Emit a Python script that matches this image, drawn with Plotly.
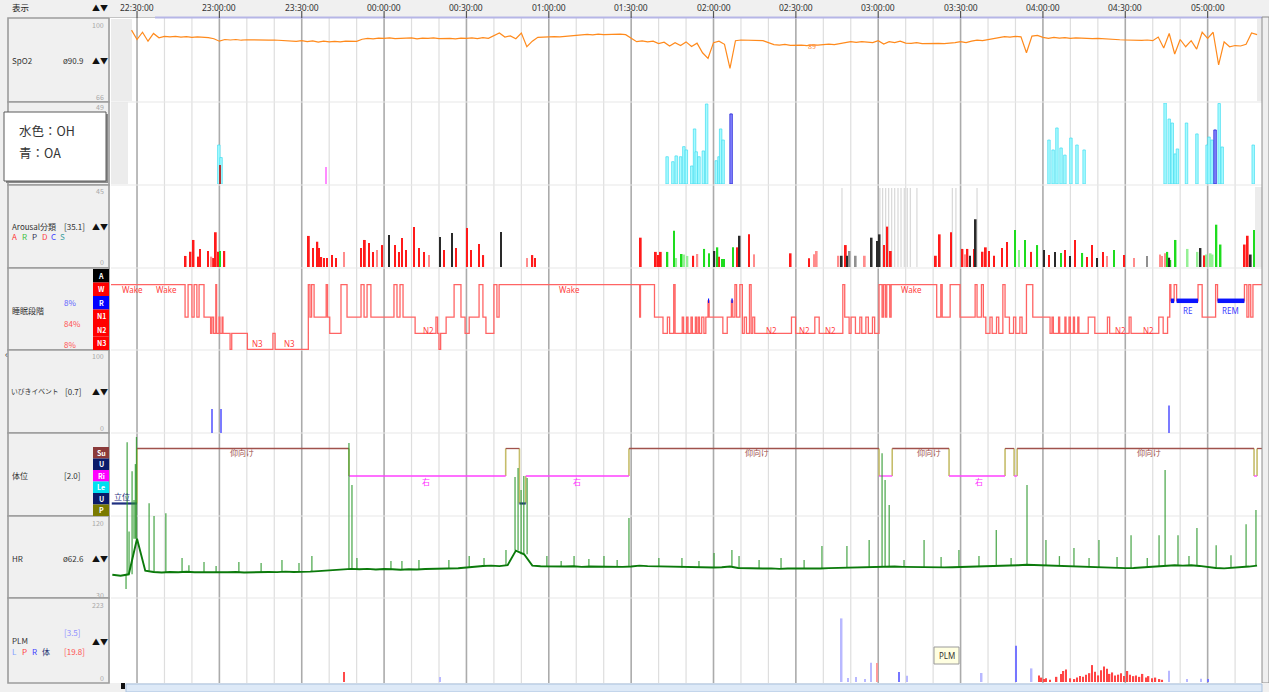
import plotly.graph_objects as go

# ======================= DATA (minutes after 22:00) =======================
TICK_MIN = [30, 60, 90, 120, 150, 180, 210, 240, 270, 300, 330, 360, 390, 420]
TICK_LABELS = ["22:30:00", "23:00:00", "23:30:00", "00:00:00", "00:30:00", "01:00:00", "01:30:00",
               "02:00:00", "02:30:00", "03:00:00", "03:30:00", "04:00:00", "04:30:00", "05:00:00"]
MINOR_MIN = [40, 50, 70, 80, 100, 110, 130, 140, 160, 170, 190, 200, 220, 230, 250, 260, 280, 290,
             310, 320, 340, 350, 370, 380, 400, 410, 430]

# SpO2 (%), sampled every 2 minutes from 22:28
SPO2_START, SPO2_STEP = 28, 2
SPO2 = [95.4, 91.5, 94.5, 90.8, 94.0, 92.2, 92.8,
        92.6, 92.8, 92.5, 92.7, 92.4, 92.6, 92.5, 92.3, 91.8, 90.8,
        91.5, 91.3, 91.5, 91.2, 91.4, 91.3, 91.2, 91.4, 91.2, 91.3, 91.1, 90.9, 91.0, 90.7, 91.0,
        90.6, 90.9, 90.4, 90.8, 90.5, 90.7, 90.5, 90.8, 90.6, 90.7, 91.6, 92.0, 91.8, 92.1, 92.0,
        92.2, 91.9, 92.1, 92.0, 92.2, 91.8, 92.1, 92.0, 92.2, 91.9, 92.1, 92.0, 91.8, 92.1, 92.0,
        92.2, 91.9, 92.3, 92.0, 93.0, 94.2, 92.5, 93.0, 91.8, 94.2, 88.5, 90.8, 92.4, 92.6, 92.7,
        92.7, 92.6, 92.8, 92.7, 92.9, 93.2, 93.6, 93.4, 93.7, 93.5, 93.6, 93.4, 93.7, 93.5, 92.2,
        90.6, 90.9, 90.5, 90.8, 89.8, 90.4, 88.8, 90.2, 89.0, 90.5, 88.6, 90.0, 86.0, 83.7, 90.2,
        90.8, 89.5, 79.5, 91.0, 91.3, 91.2, 91.0, 90.8, 91.0, 90.2, 89.4, 89.2, 89.5, 89.1, 89.3,
        89.2, 89.0, 89.3, 89.2, 89.4, 89.6, 89.4, 89.8, 90.2, 90.6, 90.3, 90.6, 90.4, 90.2, 91.0,
        89.6, 90.6, 90.2, 90.8, 90.0, 89.9, 90.2, 89.8, 89.9, 89.8, 89.9, 89.8, 89.9, 90.2, 90.6,
        90.2, 90.8, 91.2, 91.0, 91.5, 91.8, 92.2, 92.7, 92.5, 92.8, 92.6, 86.0, 92.9, 93.2, 92.4,
        92.0, 92.4, 92.1, 92.3, 92.0, 92.2, 92.0, 92.1, 91.9, 92.0, 91.8, 91.9, 91.6, 91.4, 91.3,
        91.2, 91.4, 91.1, 91.3, 91.0, 92.5, 88.0, 94.0, 85.5, 91.5, 88.5, 91.0, 87.5, 94.5, 92.0,
        94.5, 81.0, 90.5, 88.5, 89.0, 88.8, 89.5, 94.2, 93.5]

# Respiratory events (height) : OH = light blue, OA = blue
OH_T = [59.8, 60.6, 223.1, 225.2, 226.4, 228.0, 229.2, 230.1, 232.1, 233.1, 233.7, 234.7, 236.3, 237.5,
        241.0, 242.0, 242.6, 243.5, 362.2, 363.7, 365.1, 366.6, 368.0, 370.2, 372.4, 375.0,
        404.5, 406.0, 407.1, 408.2, 409.0, 412.3, 416.1, 419.8, 420.5, 421.6, 424.2, 425.3, 436.6]
OH_V = [23.6, 16.0, 16.5, 13.5, 17.0, 16.5, 22.6, 20.6, 10.9, 33.3, 19.5, 16.5, 20.0, 48.4,
        14.1, 16.5, 33.3, 26.6, 26.6, 20.6, 33.9, 21.8, 17.5, 27.8, 23.6, 20.6,
        49.0, 39.3, 36.9, 18.2, 21.2, 36.9, 30.3, 23.6, 28.4, 26.6, 48.7, 22.4, 23.6]
OA_T = [246.4, 422.7]
OA_V = [42.4, 32.7]
EV_OTHER_T = [60.2, 98.8]
EV_OTHER_V = [11.5, 10.3]
EV_OTHER_KIND = ["dark", "pink"]

# Arousals
AROUSAL_T = [47.7, 49.5, 50.6, 52.3, 52.9, 55.9, 57.1, 57.8, 58.7, 59.6, 60.2, 61.8,
             92.6, 94.1, 95.7, 96.3, 97.1, 98.1, 99.2, 101.0, 102.5, 105.4,
             111.6, 113.0, 114.5, 116.0, 117.4, 119.3, 121.8, 124.0, 125.4, 126.5, 128.0, 130.9, 132.7, 134.5,
             136.4, 140.4, 141.8, 144.7, 146.2, 150.2, 151.7, 154.6, 156.1, 162.6, 172.1, 174.0, 175.0,
             213.5, 219.0, 219.8, 220.8, 223.2, 225.6, 226.4, 228.4, 229.3, 230.5, 232.6, 234.1, 236.6, 238.4,
             240.3, 241.4, 242.0, 243.1, 243.8, 247.1, 248.7, 249.5, 252.9, 254.8,
             268.1, 274.8, 276.6, 277.6, 285.5, 286.7, 288.2, 288.8, 289.6, 291.8, 295.1, 297.6, 299.7, 300.5,
             302.1, 303.3, 304.6,
             321.0, 322.4, 326.5, 330.7, 331.7, 332.5, 333.4, 334.9, 335.5, 338.0, 339.2, 340.4, 342.2,
             345.1, 346.9, 349.8, 351.3, 353.5, 355.7, 357.9, 360.4, 362.2, 364.4, 366.6, 368.0, 369.9, 371.7,
             374.3, 376.1, 377.9, 379.7, 381.9, 383.3, 385.9, 389.5, 393.2, 397.9,
             402.7, 403.4, 404.5, 405.3, 406.0, 406.4, 408.3, 412.7, 416.3, 417.4, 418.9, 419.6, 421.1, 421.8,
             423.2, 424.7, 433.5, 434.6, 435.7, 436.9]
AROUSAL_V = [6.3, 8.7, 15.4, 5.9, 10.3, 9.1, 5.9, 5.1, 19.8, 8.7, 9.1, 9.1,
             17.7, 10.8, 14.4, 10.8, 5.7, 5.1, 5.1, 6.8, 5.1, 8.6,
             10.8, 15.4, 13.7, 8.6, 9.7, 12.5, 18.2, 12.5, 8.6, 16.5, 9.7, 22.8, 10.8, 8.6,
             6.8, 17.1, 9.7, 19.4, 10.8, 22.2, 9.7, 13.1, 6.8, 20.0, 5.1, 6.8, 5.1,
             16.7, 8.6, 6.8, 8.6, 8.6, 20.7, 5.1, 7.4, 7.1, 6.3, 6.4, 7.4, 10.3, 7.8,
             9.1, 11.2, 5.9, 4.6, 4.6, 11.2, 11.2, 17.8, 18.6, 7.2,
             7.8, 5.0, 7.2, 9.1, 6.4, 6.4, 12.5, 6.4, 9.1, 6.4, 6.4, 16.7, 14.8, 18.6,
             12.5, 23.0, 9.1,
             6.4, 18.6, 19.8, 10.3, 7.2, 10.3, 6.4, 10.3, 27.2, 8.7, 11.2, 9.1, 6.4,
             10.8, 14.3, 21.1, 9.7, 15.4, 8.6, 12.5, 9.7, 6.8, 8.6, 8.0, 9.7, 6.3, 15.4,
             8.0, 5.7, 12.5, 5.1, 8.6, 6.3, 9.7, 6.8, 5.1, 6.3,
             7.1, 6.3, 7.8, 8.6, 5.3, 4.0, 15.4, 10.3, 8.6, 10.8, 6.6, 7.1, 7.8, 7.1,
             24.1, 12.8, 12.8, 17.8, 7.1, 21.1]
AROUSAL_KIND = ["A", "A", "A", "A", "A", "A", "D", "A", "A", "A", "R", "A",
                "A", "A", "A", "A", "A", "A", "A", "A", "A", "D",
                "A", "A", "A", "A", "D", "A", "P", "A", "A", "A", "A", "A", "A", "A",
                "D", "P", "A", "P", "A", "A", "A", "A", "A", "P", "D", "A", "A",
                "A", "A", "A", "A", "R", "R", "r", "R", "r", "r", "A", "D", "R", "R",
                "P", "R", "A", "R", "R", "R", "A", "P", "A", "D",
                "A", "A", "D", "D", "D", "P", "A", "P", "g", "g", "D", "P", "P", "P",
                "A", "A", "A",
                "A", "A", "A", "A", "D", "A", "P", "A", "P", "A", "A", "A", "A",
                "A", "A", "R", "r", "R", "A", "R", "P", "A", "P", "R", "A", "P", "A",
                "R", "A", "A", "P", "A", "D", "R", "A", "D", "g",
                "D", "D", "D", "R", "P", "R", "R", "r", "r", "P", "A", "r", "r", "r",
                "R", "R", "A", "A", "P", "R"]
AROUSAL_GRAY_T = [286.8, 300.6, 301.6, 302.7, 303.8, 304.9, 306.0, 307.2, 308.3, 309.5, 310.6, 311.7,
                  314.1, 327.0, 328.3, 336.0]

# Hypnogram (start of each epoch run)
STAGE_T = [20.5, 47.5, 48.6, 50.0, 50.8, 51.8, 52.6, 54.4, 56.8, 57.3, 57.9, 58.7, 59.0, 59.9, 60.2, 61.0,
           61.3, 63.9, 64.5, 70.2, 79.5, 80.3, 92.4, 93.0, 93.6, 94.5, 98.9, 99.4, 100.2, 104.3, 106.5,
           111.6, 112.7, 113.8, 115.2, 123.6, 124.7, 125.8, 126.9, 131.3, 138.9, 139.5, 140.0, 140.6,
           142.6, 145.5, 148.0, 149.5, 151.0, 154.6, 156.0, 157.1, 160.0, 161.1, 161.9,
           213.1, 213.4, 218.5, 221.6, 223.2, 224.0, 225.5, 226.0, 228.6, 229.1, 230.2, 230.7, 231.8,
           232.3, 233.4, 233.8, 234.4, 234.9, 235.7, 236.5, 237.2, 238.0, 238.4, 243.4, 245.0, 246.5,
           247.0, 247.8, 248.4, 249.6, 250.5, 251.2, 252.0, 253.1, 253.7, 254.3, 255.0, 268.4, 269.9,
           276.9, 278.5, 287.1, 287.8, 289.4, 290.1, 291.7, 293.3, 294.0, 295.5, 296.4, 297.9, 298.7,
           300.3, 301.4, 301.9, 302.6, 303.1, 304.2, 304.7, 321.3, 322.8, 323.3, 326.2, 329.8, 335.3,
           336.0, 337.6, 338.3, 339.2, 340.7, 341.5, 343.1, 343.9, 345.4, 346.2, 347.8, 349.3, 350.1,
           351.6, 352.4, 354.0, 356.3, 362.6, 363.3, 363.8, 365.7, 366.1, 368.0, 368.4, 369.5, 370.0,
           371.1, 371.5, 372.7, 373.1, 376.5, 378.9, 383.5, 384.3, 391.4, 392.1, 402.2, 403.8, 405.4,
           406.2, 406.6, 407.8, 408.7, 416.5, 418.0, 422.9, 423.6, 433.4, 434.3, 435.0, 435.7, 436.5]
STAGE_CODE = ["W", "N1", "W", "N1", "W", "N1", "W", "N1", "N2", "N1", "N2", "W", "N2", "N1", "N2", "N1",
              "N2", "N3", "N2", "N3", "N2", "N3", "W", "N1", "W", "N1", "W", "N1", "N2", "W", "N1",
              "W", "N1", "W", "N1", "W", "N1", "W", "N1", "N2", "N1", "N2", "N3", "N2",
              "N1", "W", "N1", "N2", "N1", "W", "N1", "N2", "W", "N1", "W",
              "N1", "W", "N1", "N2", "N1", "N2", "W", "N2", "N1", "N2", "N1", "N2", "N1",
              "N2", "N1", "N2", "N1", "N2", "N1", "N2", "N1", "R", "N1", "N2", "N1", "R",
              "N1", "W", "N1", "W", "N2", "N1", "N2", "W", "N2", "N1", "N2", "N1", "N2",
              "N1", "N2", "W", "N1", "N2", "N1", "N2", "N1", "N2", "N1", "N2", "N1", "N2",
              "W", "N1", "W", "N1", "W", "N1", "W", "N1", "W", "N1", "W", "N1", "W",
              "N1", "W", "N1", "N2", "N1", "N2", "N1", "N2", "W", "N1", "N2", "N1", "N2",
              "N1", "N2", "W", "N1", "N2", "N1", "N2", "N1", "N2", "N1", "N2", "N1", "N2",
              "N1", "N2", "N1", "N2", "N1", "N2", "N1", "N2", "N1", "N2", "N1", "N2", "N1",
              "W", "R", "W", "R", "W", "N1", "W", "R", "W", "N1", "W", "N1", "W"]
STAGE_PCT = ["8%", "84%", "8%"]
STAGE_LABEL_TEXT = ["Wake", "Wake", "N3", "N3", "N2", "Wake", "N2", "N2", "N2", "Wake", "N2", "N2", "RE", "REM"]
STAGE_LABEL_T = [28.2, 40.9, 74.0, 85.7, 136.0, 187.7, 261.3, 273.0, 282.5, 312.3, 388.1, 398.3, 412.5, 428.5]

# Snoring events
SNORE_T = [57.3, 60.6, 406.0]
SNORE_V = [29, 29, 33]

# Body position
POS_T = [20.8, 30.0, 107.2, 164.3, 169.3, 171.6, 209.2, 300.3, 305.1, 325.8, 346.2, 349.5, 350.6, 436.9, 438.0]
POS_CODE = ["立位", "仰向け", "右", "仰向け", "立位", "右", "仰向け", "右", "仰向け", "右", "仰向け", "右",
            "仰向け", "右", "仰向け"]
POS_LABEL_TEXT = ["立位", "仰向け", "仰向け", "仰向け", "仰向け", "右", "右", "右"]
POS_LABEL_T = [24.5, 68.2, 255.9, 318.5, 398.7, 135.3, 190.3, 336.7]

# Heart rate (bpm), every 3 minutes from 22:21, plus short spikes
HR_START, HR_STEP = 21, 3
HR = [55.5, 54.5, 56.0, 95.0, 60.0, 58.5, 58.0, 58.6, 58.2, 58.8, 58.3, 58.5, 58.0, 58.4,
      58.2, 58.6, 58.0, 58.4, 58.1, 58.6, 58.4, 59.0, 58.6, 59.2, 59.0, 59.5, 60.2, 60.5, 60.8,
      62.0, 61.5, 62.0, 61.2, 61.8, 61.5, 61.0, 61.5, 61.2, 61.8, 62.0, 62.3, 62.0, 62.6, 63.5,
      64.5, 65.2, 65.5, 65.0, 66.0,
      82.0, 78.0,
      65.5, 64.8, 64.5, 65.0, 64.6, 64.8, 64.2, 64.6, 64.4, 64.8, 64.5, 64.2, 64.6,
      65.5, 65.0, 64.8, 64.5, 64.0, 63.5, 63.8, 63.2, 63.0, 63.5, 63.8, 64.5, 63.0, 62.6, 62.8,
      62.3, 62.5, 62.0, 62.4, 62.2, 62.6, 62.0, 62.4, 62.8, 63.0, 63.2, 63.5, 63.8, 64.0, 64.5,
      65.0, 64.5, 64.2, 64.0, 63.8, 63.5, 64.0, 63.6, 63.8, 64.0, 64.5, 64.2, 64.8, 65.0, 65.5,
      65.8, 66.0, 66.5, 66.2, 66.0,
      65.5, 65.0, 64.6, 64.2, 64.0, 63.8, 63.6, 63.4, 63.0, 62.8, 63.0, 63.5, 64.0, 65.0,
      65.5, 66.0, 65.5, 66.0, 65.2, 64.0, 63.0, 62.5, 63.0, 63.8, 64.5, 65.5]
HR_SPIKE_T = [26.0, 26.4, 27.1, 28.2, 28.9, 29.4, 29.8, 34.4, 36.2, 40.5, 46.4,
              48.9, 54.4, 58.8, 67.1, 75.2, 82.8, 89.0, 93.7, 107.2, 108.3,
              110.1, 122.5, 126.5, 132.7, 143.6, 151.0, 156.4, 164.4, 167.7, 168.8,
              169.9, 170.9, 172.1, 179.3, 184.5, 189.2, 194.6, 200.1, 204.9, 209.2,
              220.1, 228.5, 234.7, 240.2, 246.7, 249.3, 256.6, 264.6, 273.0, 279.5,
              288.6, 296.7, 301.4, 302.5, 304.0, 309.4, 316.7, 322.9, 329.4, 336.7,
              343.0, 348.4, 354.2, 361.1, 366.0, 371.3, 376.8, 380.4, 387.0, 392.1,
              398.0, 402.3, 404.5, 409.2, 413.2, 416.1, 423.1, 428.5, 434.0, 437.6]
HR_SPIKE_V = [40, 201, 103, 169, 137.6, 177, 206.7, 134, 120, 123, 74,
              66, 69.5, 65, 69.5, 68.4, 71.7, 68.4, 76, 200, 154,
              74, 70.6, 70.6, 71.7, 71.7, 76, 74, 82.7, 162.8, 172.7,
              148.5, 164, 161.7, 76, 70.6, 76, 72.8, 76, 71.7, 117.8,
              74, 74, 70.6, 79.4, 82.7, 76, 71.7, 74, 71.7, 87,
              87, 93.7, 189, 159.5, 132, 71.7, 93.7, 75, 82.7, 76,
              104.6, 74, 154, 93.7, 76, 85, 74, 93.7, 75, 99,
              74, 99, 170.5, 99, 76, 106.8, 88, 77, 111, 126.6]

# PLM
PLM_T = [105.4, 140.4, 286.7, 289.0, 292.0, 295.2, 297.3, 299.5, 307.6, 310.5, 337.7, 350.1, 355.9,
         406.0, 412.5, 417.5, 420.2]
PLM_V = [27, 13.6, 173, 11, 13.6, 8, 52.5, 51.7, 27, 17, 24.5, 98.7, 37, 30.7, 8, 9, 8]
PLM_KIND = ["P", "L", "L", "L", "L", "L", "L", "Q", "B", "L", "L", "B", "L", "L", "L", "L", "B"]
PLM_RED_T = [358.6, 359.5, 360.3, 361.2, 362.5, 365.0, 366.5, 367.5, 368.5, 370.0,
             371.5, 372.5, 373.5, 374.5, 375.8, 377.0, 378.0, 379.0, 380.2, 381.2,
             382.3, 383.3, 384.3, 385.3, 386.3, 387.5, 388.5, 389.5, 390.8, 391.8,
             393.0, 394.0, 395.2, 396.3, 397.5, 398.5, 399.8, 401.0, 402.5, 403.5]
PLM_RED_V = [18, 12, 8, 10, 6, 14, 22, 30, 34, 10,
             8, 12, 16, 14, 20, 24, 46, 28, 18, 32,
             42, 36, 22, 26, 18, 20, 24, 16, 30, 20,
             16, 18, 14, 22, 12, 16, 10, 12, 8, 6]

# ======================= LAYOUT GEOMETRY =======================
FIG_W, FIG_H = 1269, 692
T_START, T_END = 20.52, 439.8
PLOT_X0, PLOT_X1 = 111, 1262
FONT = "Noto Sans CJK JP"

PANELS = {1: (19, 101, [66, 100]), 2: (103, 184, [0, 49]), 3: (188, 267, [0, 45]),
          4: (268, 350, [0.97, 6.02]), 5: (350, 433, [0, 100]), 6: (433, 516, [0.545, 3.564]),
          7: (433, 598, [30, 211.1]), 8: (600, 682, [0, 223])}
STAGE_LEVEL = {"W": 5, "R": 4, "N1": 3, "N2": 2, "N3": 1}
POS_LEVEL = {"仰向け": 3, "右": 2, "立位": 1}
POS_COLOR = {"仰向け": "#a0524c", "右": "#ff40ff", "立位": "#1f2f80"}


def px(x):
    return x / FIG_W


def py(y):
    return 1 - y / FIG_H


def ax(i):
    return ("x" if i == 1 else f"x{i}"), ("y" if i == 1 else f"y{i}")


fig = go.Figure()
layout = {}
for i, (top, bot, rng) in PANELS.items():
    xk = "xaxis" if i == 1 else f"xaxis{i}"
    yk = "yaxis" if i == 1 else f"yaxis{i}"
    layout[xk] = dict(domain=[px(PLOT_X0), px(PLOT_X1)], range=[T_START, T_END], visible=False,
                      anchor=ax(i)[1], fixedrange=True)
    layout[yk] = dict(domain=[py(bot), py(top)], range=rng, visible=False, anchor=ax(i)[0], fixedrange=True)

# ---------- SpO2 ----------
spo2_t = [SPO2_START + SPO2_STEP * k for k in range(len(SPO2))]
x1, y1 = ax(1)
fig.add_trace(go.Scatter(x=spo2_t, y=SPO2, mode="lines", line=dict(color="#ff8a1c", width=1.2),
                         xaxis=x1, yaxis=y1))

# ---------- events ----------
x2, y2 = ax(2)
fig.add_trace(go.Bar(x=OH_T, y=OH_V, width=0.9, marker=dict(color="#a8fbff", line=dict(color="#40dcf0", width=0.7)),
                     xaxis=x2, yaxis=y2))
fig.add_trace(go.Bar(x=OA_T, y=OA_V, width=0.9, marker=dict(color="#8c8cff", line=dict(color="#2020d8", width=0.8)),
                     xaxis=x2, yaxis=y2))
ev_col = {"dark": "#b03434", "pink": "#ff8cff"}
fig.add_trace(go.Bar(x=EV_OTHER_T, y=EV_OTHER_V, width=0.6, marker=dict(color=[ev_col[k] for k in EV_OTHER_KIND], line=dict(width=0)),
                     xaxis=x2, yaxis=y2))

# ---------- arousal ----------
x3, y3 = ax(3)
fig.add_trace(go.Bar(x=AROUSAL_GRAY_T, y=[45] * len(AROUSAL_GRAY_T), width=0.45,
                     marker=dict(color="rgba(170,170,170,0.45)", line=dict(width=0)), xaxis=x3, yaxis=y3))
ar_col = {"A": "#ff1a1a", "D": "#ff8c8c", "R": "#1edc1e", "r": "#95f095", "P": "#2a2a2a", "g": "#909090"}
for kind, col in ar_col.items():
    xs = [t for t, k in zip(AROUSAL_T, AROUSAL_KIND) if k == kind]
    ys = [v for v, k in zip(AROUSAL_V, AROUSAL_KIND) if k == kind]
    fig.add_trace(go.Bar(x=xs, y=ys, width=0.65, marker=dict(color=col, line=dict(width=0)), xaxis=x3, yaxis=y3))

# ---------- hypnogram ----------
x4, y4 = ax(4)
lv = [STAGE_LEVEL[c] for c in STAGE_CODE]
fig.add_trace(go.Scatter(x=STAGE_T + [T_END], y=lv + [lv[-1]], mode="lines", line_shape="hv",
                         line=dict(color="#ff6464", width=1.3), xaxis=x4, yaxis=y4))
rx, ry = [], []
for k, c in enumerate(STAGE_CODE):
    if c == "R":
        t1 = STAGE_T[k + 1] if k + 1 < len(STAGE_T) else T_END
        rx += [STAGE_T[k], t1, None]
        ry += [STAGE_LEVEL["R"]] * 2 + [None]
fig.add_trace(go.Scatter(x=rx, y=ry, mode="lines", line=dict(color="#0a14ff", width=4.5), xaxis=x4, yaxis=y4))

# ---------- snoring ----------
x5, y5 = ax(5)
fig.add_trace(go.Bar(x=SNORE_T, y=SNORE_V, width=0.5, marker=dict(color="#7b7bff", line=dict(width=0)),
                     xaxis=x5, yaxis=y5))

# ---------- position ----------
x6, y6 = ax(6)
seg = {c: ([], []) for c in POS_LEVEL}
cx, cy = [], []
for k, c in enumerate(POS_CODE):
    t1 = POS_T[k + 1] if k + 1 < len(POS_T) else T_END
    seg[c][0].extend([POS_T[k], t1, None])
    seg[c][1].extend([POS_LEVEL[c], POS_LEVEL[c], None])
    if k > 0:
        cx += [POS_T[k], POS_T[k], None]
        cy += [POS_LEVEL[POS_CODE[k - 1]], POS_LEVEL[c], None]
fig.add_trace(go.Scatter(x=cx, y=cy, mode="lines", line=dict(color="#c6bd6a", width=1.6), xaxis=x6, yaxis=y6))
for c, (xs, ys) in seg.items():
    fig.add_trace(go.Scatter(x=xs, y=ys, mode="lines", line=dict(color=POS_COLOR[c], width=2.2 if c == "立位" else 1.3),
                             xaxis=x6, yaxis=y6))

# ---------- heart rate ----------
x7, y7 = ax(7)
hr_t = [HR_START + HR_STEP * k for k in range(len(HR))]
sx, sy = [], []
for t, v in zip(HR_SPIKE_T, HR_SPIKE_V):
    k = min(len(HR) - 1, max(0, round((t - HR_START) / HR_STEP)))
    sx += [t, t, None]
    sy += [HR[k], v, None]
fig.add_trace(go.Scatter(x=sx, y=sy, mode="lines", line=dict(color="rgba(40,150,40,0.8)", width=1.3),
                         xaxis=x7, yaxis=y7))
fig.add_trace(go.Scatter(x=hr_t, y=HR, mode="lines", line=dict(color="#0b7a0b", width=1.9), xaxis=x7, yaxis=y7))

# ---------- PLM ----------
x8, y8 = ax(8)
plm_col = {"P": "#ff4a4a", "L": "#b8b8ff", "B": "#7676ff", "Q": "#ff9a9a"}
fig.add_trace(go.Bar(x=PLM_T, y=PLM_V, width=0.55, marker=dict(color=[plm_col[k] for k in PLM_KIND], line=dict(width=0)),
                     xaxis=x8, yaxis=y8))
fig.add_trace(go.Bar(x=PLM_RED_T, y=PLM_RED_V, width=0.5, marker=dict(color="#ff4444", line=dict(width=0)),
                     xaxis=x8, yaxis=y8))

# ======================= DECORATION =======================
shapes = []


def rect(x0, y0, x1_, y1_, fill, line="rgba(0,0,0,0)", lw=0, layer="above"):
    shapes.append(dict(type="rect", xref="paper", yref="paper", x0=px(x0), x1=px(x1_), y0=py(y1_), y1=py(y0),
                       fillcolor=fill, line=dict(color=line, width=lw), layer=layer))


def hline(x0, x1_, y, color, lw=1, layer="below"):
    shapes.append(dict(type="line", xref="paper", yref="paper", x0=px(x0), x1=px(x1_), y0=py(y), y1=py(y),
                       line=dict(color=color, width=lw), layer=layer))


# hatched "no data" zones
rect(111, 19, 132, 101, "#ececec", layer="below")
rect(111, 102, 128, 184, "#ececec", layer="below")
rect(1257, 19, 1262, 101, "#ececec", layer="below")
rect(1255, 187, 1262, 267, "#ececec", layer="below")

# vertical time grid
for t in MINOR_MIN:
    shapes.append(dict(type="line", xref="x", yref="paper", x0=t, x1=t, y0=py(683), y1=py(17),
                       line=dict(color="#dedede", width=1.2), layer="below"))
for t in TICK_MIN:
    shapes.append(dict(type="line", xref="x", yref="paper", x0=t, x1=t, y0=py(683), y1=py(17),
                       line=dict(color="#ababab", width=1.6), layer="below"))
# horizontal panel separators in plot area
for y in [102, 185, 268, 350, 433, 516, 598]:
    hline(PLOT_X0, PLOT_X1, y, "#e8e8e8", 1.2)

# header
rect(0, 0, FIG_W, 17, "#f0f0f0")
hline(0, FIG_W, 17.5, "#c4c4c4", 1.2, layer="above")
hline(155, PLOT_X1, 17.5, "#b6b6e6", 2.2, layer="above")
for t in TICK_MIN:
    shapes.append(dict(type="line", xref="x", yref="paper", x0=t, x1=t, y0=py(18), y1=py(11),
                       line=dict(color="#555555", width=1.2), layer="above"))

# right border & bottom scroll bar
rect(1262, 17, FIG_W, 683, "#efefef", "#8c8c8c", 1)
rect(0, 683, FIG_W, FIG_H, "#f0f0f0")
rect(126, 684, 1262, 692, "#dde9f7", "#a9c1de", 1)
rect(121, 683, 125, 689, "#111111")

# left label column
rect(0, 17, 110, 683, "#f0f0f0")
BOXES = [(18, 102), (102, 185), (185, 268), (268, 350), (350, 433), (433, 516), (516, 598), (598, 683)]
for top, bot in BOXES:
    rect(8, top, 109, bot, "#f0f0f0", "#9c9c9c", 1.6)

STAGE_BOX = ["A", "W", "R", "N1", "N2", "N3"]
STAGE_BOX_COL = ["#000000", "#ff0000", "#0000ff", "#ff0000", "#ff0000", "#ff0000"]
POS_BOX = ["Su", "U", "Ri", "Le", "U", "P"]
POS_BOX_COL = ["#8b3a3a", "#0a1a6a", "#ff00ff", "#00e0f0", "#0a1a6a", "#7a7a00"]

annotations = []


def txt(x, y, text, size=8, color="#333333", anchor="left", bold=False, family=FONT):
    annotations.append(dict(xref="paper", yref="paper", x=px(x), y=py(y), text=f"<b>{text}</b>" if bold else text,
                            showarrow=False, xanchor=anchor, yanchor="middle",
                            font=dict(size=size, color=color, family=family)))


h = (350 - 269) / 6
for k, (lab, col) in enumerate(zip(STAGE_BOX, STAGE_BOX_COL)):
    rect(93, 269 + k * h, 109, 269 + (k + 1) * h, col)
    txt(101, 269 + (k + 0.5) * h, lab, 7, "#ffffff", "center", True)
h2 = (516 - 447) / 6
for k, (lab, col) in enumerate(zip(POS_BOX, POS_BOX_COL)):
    rect(93, 447 + k * h2, 109, 447 + (k + 1) * h2, col)
    txt(101, 447 + (k + 0.5) * h2, lab, 7, "#ffffff", "center", True)

# legend overlay box
rect(6, 114, 108, 183, "#8a8a8a")
rect(4, 112, 106, 181, "#ffffff", "#5a5a5a", 1)

# header texts
txt(10, 7, "表示", 8.5, "#222222")
txt(100, 8, "▲▼", 8, "#111111", "center")
for t, lab in zip(TICK_MIN, TICK_LABELS):
    annotations.append(dict(xref="x", yref="paper", x=t, y=py(7), text=lab, showarrow=False, xanchor="center",
                            yanchor="middle", font=dict(size=8.5, color="#333333", family="Noto Sans")))

GRAY = "#a8a8a8"
# SpO2 labels
txt(106, 25, "100", 7, GRAY, "right")
txt(106, 97, "66", 7, GRAY, "right")
txt(10, 60, "SpO2", 8)
txt(61, 60, "ø90.9", 8)
txt(100, 60, "▲▼", 8, "#111111", "center")
# events
txt(106, 107, "49", 7, GRAY, "right")
txt(17, 130, "水色：OH", 12.5, "#333333")
txt(17, 153, "青：OA", 12.5, "#333333")
# arousal
txt(106, 191, "45", 7, GRAY, "right")
txt(106, 262, "0", 7, GRAY, "right")
txt(10, 227, "Arousal分類", 8)
txt(62, 227, "[35.1]", 8)
txt(100, 227, "▲▼", 8, "#111111", "center")
for xx, ch, col in [(10, "A", "#ff3030"), (20, "R", "#40c040"), (30, "P", "#303050"), (40, "D", "#ff4040"),
                    (49, "C", "#4040ff"), (58, "S", "#40a0a0")]:
    txt(xx, 237, ch, 8, col)
# stage
txt(10, 310, "睡眠段階", 8)
txt(62, 302, STAGE_PCT[0], 8, "#6060ff")
txt(62, 323, STAGE_PCT[1], 8, "#ff5050")
txt(62, 344, STAGE_PCT[2], 8, "#ff5050")
# snore
txt(106, 356, "100", 7, GRAY, "right")
txt(106, 428, "0", 7, GRAY, "right")
txt(9, 391, "いびきイベント", 6.8)
txt(63, 391, "[0.7]", 8)
txt(100, 391, "▲▼", 8, "#111111", "center")
# position
txt(10, 475, "体位", 8)
txt(62, 475, "[2.0]", 8)
# HR
txt(106, 523, "120", 7, GRAY, "right")
txt(106, 595, "30", 7, GRAY, "right")
txt(10, 558, "HR", 8)
txt(61, 558, "ø62.6", 8)
txt(100, 558, "▲▼", 8, "#111111", "center")
# PLM
txt(106, 605, "223", 7, GRAY, "right")
txt(106, 678, "0", 7, GRAY, "right")
txt(62, 632, "[3.5]", 8, "#9090ff")
txt(10, 640, "PLM", 8)
txt(100, 641, "▲▼", 8, "#111111", "center")
for xx, ch, col in [(10, "L", "#80a0ff"), (20, "P", "#ff4040"), (30, "R", "#4040ff"), (40, "体", "#203070")]:
    txt(xx, 651, ch, 8, col)
txt(62, 651, "[19.8]", 8, "#ff5050")
txt(3, 355, "‹", 9, "#333333")

# in-plot labels
for t, lab in zip(STAGE_LABEL_T, STAGE_LABEL_TEXT):
    if lab.startswith("RE"):
        yl, col = 3.4, "#3a3aff"
    elif lab == "Wake":
        yl, col = 4.72, "#ff4040"
    elif lab == "N3":
        yl, col = 1.34, "#ff4040"
    else:
        yl, col = 2.2, "#ff4040"
    annotations.append(dict(xref=x4, yref=y4, x=t, y=yl, text=lab, showarrow=False,
                            font=dict(size=8, color=col, family="Noto Sans")))
for t, lab in zip(POS_LABEL_T, POS_LABEL_TEXT):
    if lab == "立位":
        yl, col = 1.24, "#1f2f80"
    elif lab == "右":
        yl, col = 1.79, "#ff30ff"
    else:
        yl, col = 2.84, "#a0524c"
    annotations.append(dict(xref=x6, yref=y6, x=t, y=yl, text=lab, showarrow=False,
                            font=dict(size=8, color=col, family=FONT)))
annotations.append(dict(xref=x1, yref=y1, x=276.0, y=88.4, text="89", showarrow=False,
                        font=dict(size=7, color="#ff9040", family="Noto Sans")))
# PLM tooltip
rect(934, 647, 959, 664, "#ffffe1", "#9a9a9a", 1)
txt(946.5, 655.5, "PLM", 8, "#333333", "center", family="Noto Sans")

fig.update_layout(**layout)
fig.update_layout(width=FIG_W, height=FIG_H, margin=dict(l=0, r=0, t=0, b=0),
                  paper_bgcolor="#ffffff", plot_bgcolor="rgba(0,0,0,0)", showlegend=False,
                  barmode="overlay", hovermode=False, shapes=shapes, annotations=annotations)

fig.write_html("out.html", config={"displayModeBar": False},
               post_script="document.body.style.margin='0';document.body.style.overflow='hidden';")
